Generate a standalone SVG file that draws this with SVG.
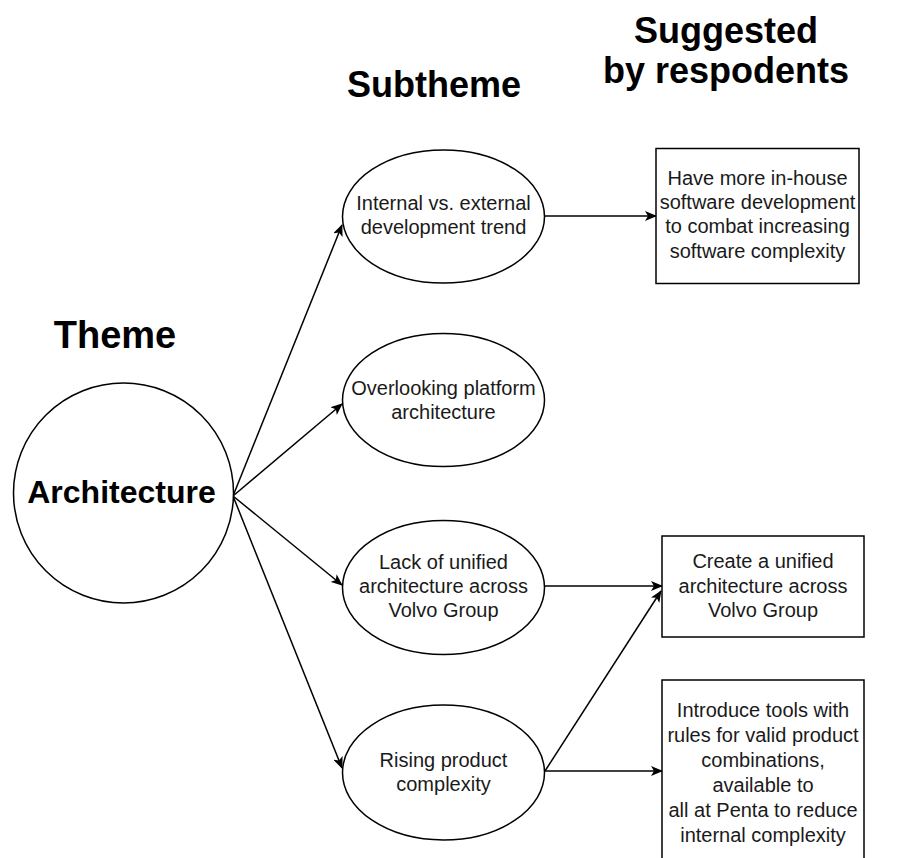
<svg xmlns="http://www.w3.org/2000/svg" width="904" height="858" viewBox="0 0 904 858">
<defs>
<marker id="ah" viewBox="0 0 12 10" refX="11" refY="5" markerWidth="12" markerHeight="10" markerUnits="userSpaceOnUse" orient="auto">
<path d="M0,0 L12,5 L0,10 L3,5 Z" fill="#000"/>
</marker>
<style>
.shape{fill:#fff;stroke:#000;stroke-width:1.5}
.t{font-family:"Liberation Sans",Arial,sans-serif;font-size:20px;fill:#1a1a1a;text-anchor:middle}
.h{font-family:"Liberation Sans",Arial,sans-serif;font-weight:bold;fill:#000;text-anchor:middle}
.c{fill:none;stroke:#000;stroke-width:1.5;marker-end:url(#ah)}
</style>
</defs>
<rect width="904" height="858" fill="#fff"/>
<g id="headers">
<text class="h" x="115" y="348" font-size="38">Theme</text>
<text class="h" x="434" y="97" font-size="36">Subtheme</text>
<text class="h" x="726" y="43" font-size="36">Suggested</text>
<text class="h" x="726" y="83" font-size="36">by respodents</text>
</g>
<g id="connectors">
<line class="c" x1="233" y1="496" x2="342" y2="225"/>
<line class="c" x1="233" y1="496" x2="342" y2="404"/>
<line class="c" x1="233" y1="496" x2="342" y2="585"/>
<line class="c" x1="233" y1="496" x2="342" y2="768"/>
<line class="c" x1="544" y1="216" x2="656" y2="216"/>
<line class="c" x1="545" y1="586" x2="662" y2="586"/>
<line class="c" x1="545" y1="771" x2="661" y2="591"/>
<line class="c" x1="545" y1="771" x2="662" y2="771"/>
</g>
<g id="architecture">
<circle class="shape" cx="123.5" cy="493" r="110"/>
<text class="h" x="121.5" y="503" font-size="32">Architecture</text>
</g>
<g id="sub1">
<ellipse class="shape" cx="443.5" cy="216.5" rx="101" ry="66.5"/>
<text class="t" x="443.5" y="210">Internal vs. external</text>
<text class="t" x="443.5" y="234">development trend</text>
</g>
<g id="sub2">
<ellipse class="shape" cx="443.5" cy="400" rx="101" ry="66.5"/>
<text class="t" x="443.5" y="395">Overlooking platform</text>
<text class="t" x="443.5" y="419">architecture</text>
</g>
<g id="sub3">
<ellipse class="shape" cx="443.5" cy="587.5" rx="101" ry="67"/>
<text class="t" x="443.5" y="569">Lack of unified</text>
<text class="t" x="443.5" y="593">architecture across</text>
<text class="t" x="443.5" y="617">Volvo Group</text>
</g>
<g id="sub4">
<ellipse class="shape" cx="443.5" cy="772.5" rx="101" ry="67.5"/>
<text class="t" x="443.5" y="767">Rising product</text>
<text class="t" x="443.5" y="791">complexity</text>
</g>
<g id="sug1">
<rect class="shape" x="656" y="148.5" width="203" height="135"/>
<text class="t" x="757.5" y="185">Have more in-house</text>
<text class="t" x="757.5" y="209">software development</text>
<text class="t" x="757.5" y="233">to combat increasing</text>
<text class="t" x="757.5" y="258">software complexity</text>
</g>
<g id="sug2">
<rect class="shape" x="662" y="536" width="202" height="101"/>
<text class="t" x="763" y="568">Create a unified</text>
<text class="t" x="763" y="593">architecture across</text>
<text class="t" x="763" y="617">Volvo Group</text>
</g>
<g id="sug3">
<rect class="shape" x="662" y="680" width="202" height="184"/>
<text class="t" x="763" y="717">Introduce tools with</text>
<text class="t" x="763" y="742">rules for valid product</text>
<text class="t" x="763" y="767">combinations,</text>
<text class="t" x="763" y="792">available to</text>
<text class="t" x="763" y="817">all at Penta to reduce</text>
<text class="t" x="763" y="842">internal complexity</text>
</g>
</svg>
